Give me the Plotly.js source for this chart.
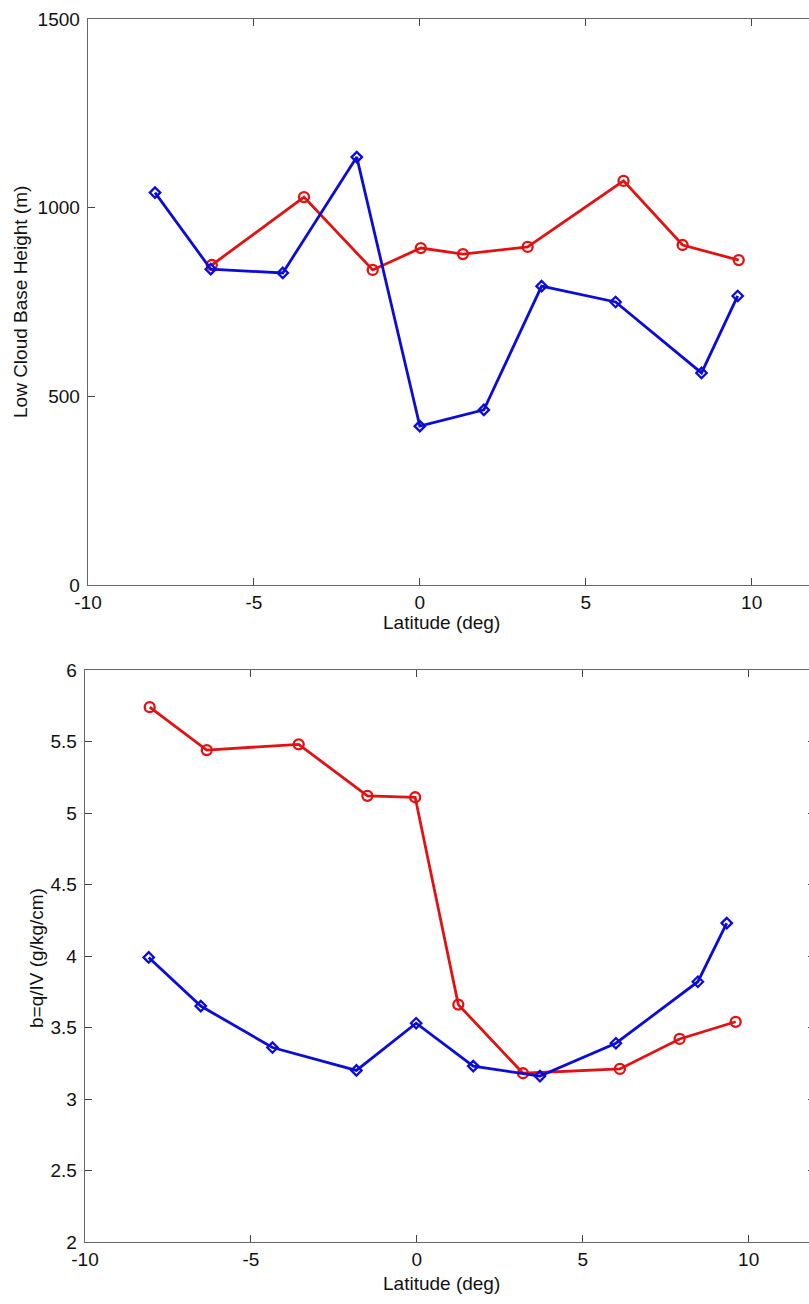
<!DOCTYPE html>
<html>
<head>
<meta charset="utf-8">
<script src="https://cdn.plot.ly/plotly-3.0.1.min.js"></script>
<style>
html,body{margin:0;padding:0;overflow:hidden;background:#fff;width:809px;height:1304px;}
#chart{width:830px;height:1304px;}
</style>
</head>
<body>
<div id="chart"></div>
<script>
// Top panel: Low cloud base height (m)
const topBlueLat = [-7.98, -6.30, -4.13, -1.90, 0.0, 1.93, 3.67, 5.90, 8.49, 9.58];
const topBlueVal = [1040, 837, 827, 1134, 421, 464, 792, 750, 562, 766];
const topRedLat  = [-6.27, -3.49, -1.42, 0.03, 1.30, 3.25, 6.14, 7.92, 9.61];
const topRedVal  = [848, 1028, 835, 893, 877, 896, 1071, 901, 861];

// Bottom panel: b = q/IV (g/kg/cm)
const botBlueLat = [-8.08, -6.51, -4.35, -1.82, -0.02, 1.70, 3.71, 6.00, 8.47, 9.34];
const botBlueVal = [3.99, 3.65, 3.36, 3.20, 3.53, 3.23, 3.16, 3.39, 3.82, 4.23];
const botRedLat  = [-8.05, -6.33, -3.56, -1.49, -0.05, 1.25, 3.20, 6.12, 7.92, 9.61];
const botRedVal  = [5.74, 5.44, 5.48, 5.12, 5.11, 3.66, 3.18, 3.21, 3.42, 3.54];

const xTicks = [-10, -5, 0, 5, 10];
const xTickText = ['-10', '-5', '0', '5', '10'];
const topYTicks = [0, 500, 1000, 1500];
const botYTicks = [2, 2.5, 3, 3.5, 4, 4.5, 5, 5.5, 6];

const BLUE = '#0c0cd8';
const RED = '#e01212';
const W = 830, H = 1304;
const FAM = 'Liberation Sans, Arial, Helvetica, sans-serif';

function blueTrace(x, y, xa, ya) {
  return {x: x, y: y, xaxis: xa, yaxis: ya, type: 'scatter', mode: 'lines+markers',
    line: {color: BLUE, width: 2.8},
    marker: {symbol: 'diamond-open', size: 8, color: BLUE, line: {width: 2.3, color: BLUE}},
    showlegend: false, hoverinfo: 'x+y'};
}
function redTrace(x, y, xa, ya) {
  return {x: x, y: y, xaxis: xa, yaxis: ya, type: 'scatter', mode: 'lines+markers',
    line: {color: RED, width: 2.8},
    marker: {symbol: 'circle-open', size: 10, color: RED, line: {width: 2.3, color: RED}},
    showlegend: false, hoverinfo: 'x+y'};
}

const data = [
  redTrace(topRedLat, topRedVal, 'x', 'y'),
  blueTrace(topBlueLat, topBlueVal, 'x', 'y'),
  redTrace(botRedLat, botRedVal, 'x2', 'y2'),
  blueTrace(botBlueLat, botBlueVal, 'x2', 'y2')
];

const tickFont = {family: FAM, size: 19, color: '#111'};
const titleFont = {family: FAM, size: 19, color: '#111'};
const axBase = {
  showline: true, linecolor: '#666', linewidth: 1.3, mirror: 'ticks',
  ticks: 'inside', ticklen: 7, tickcolor: '#444', tickwidth: 1,
  showgrid: false, zeroline: false, tickfont: tickFont
};

function px(x) { return x / W; }
function py(y) { return 1 - y / H; }

const layout = {
  width: W, height: H,
  margin: {l: 0, r: 0, t: 0, b: 0},
  paper_bgcolor: '#fff', plot_bgcolor: '#fff',
  font: tickFont,
  xaxis: Object.assign({}, axBase, {
    domain: [px(88), px(818)], range: [-10, 12], tickmode: 'array', tickvals: xTicks, ticktext: xTickText,
    anchor: 'y', ticklabelstandoff: 0
  }),
  yaxis: Object.assign({}, axBase, {
    domain: [py(585), py(19)], range: [0, 1500], tickmode: 'array', tickvals: topYTicks,
    anchor: 'x', ticklabelstandoff: 3
  }),
  xaxis2: Object.assign({}, axBase, {
    domain: [px(85), px(815)], range: [-10, 12], tickmode: 'array', tickvals: xTicks, ticktext: xTickText,
    anchor: 'y2', ticklabelstandoff: 0
  }),
  yaxis2: Object.assign({}, axBase, {
    domain: [py(1242), py(670)], range: [2, 6], tickmode: 'array', tickvals: botYTicks,
    ticktext: botYTicks.map(v => String(v)),
    anchor: 'x2', ticklabelstandoff: 3
  }),
  annotations: [
    {text: 'Latitude (deg)', xref: 'paper', yref: 'paper', x: px(441), y: py(622),
     xanchor: 'center', yanchor: 'middle', showarrow: false, font: titleFont},
    {text: 'Low Cloud Base Height (m)', xref: 'paper', yref: 'paper', x: px(20), y: py(302),
     xanchor: 'center', yanchor: 'middle', showarrow: false, textangle: -90, font: titleFont},
    {text: 'Latitude (deg)', xref: 'paper', yref: 'paper', x: px(441), y: py(1283),
     xanchor: 'center', yanchor: 'middle', showarrow: false, font: titleFont},
    {text: 'b=q/IV (g/kg/cm)', xref: 'paper', yref: 'paper', x: px(36), y: py(958),
     xanchor: 'center', yanchor: 'middle', showarrow: false, textangle: -90, font: titleFont}
  ]
};

Plotly.newPlot('chart', data, layout, {staticPlot: true, displayModeBar: false});
</script>
</body>
</html>
